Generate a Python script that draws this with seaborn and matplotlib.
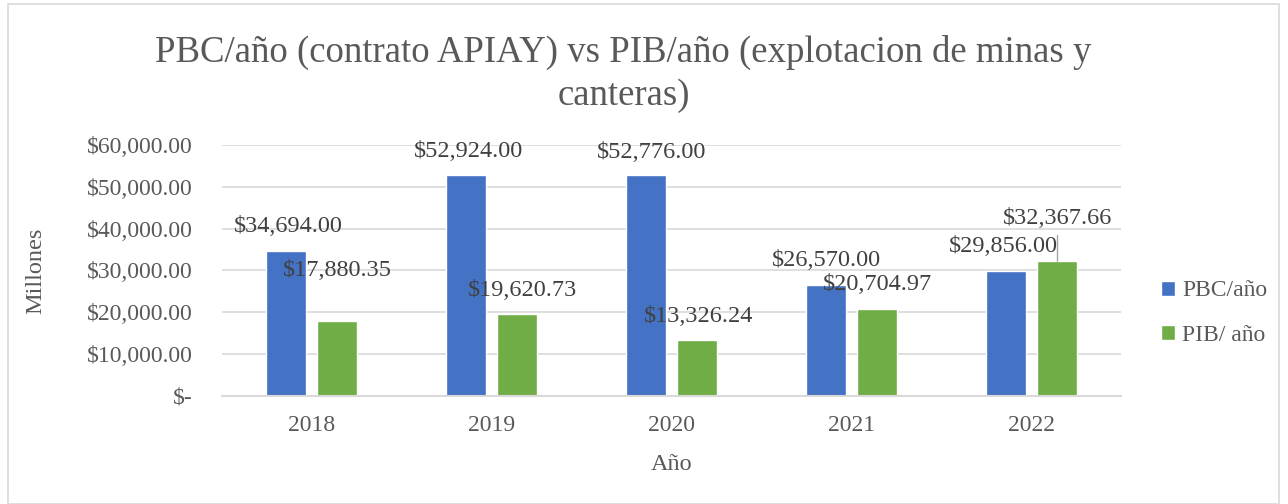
import pandas as pd
import matplotlib.pyplot as plt
import seaborn as sns
from matplotlib.patches import Rectangle
from matplotlib.ticker import FuncFormatter

# Data
years = ['2018', '2019', '2020', '2021', '2022']
pbc = [34694.00, 52924.00, 52776.00, 26570.00, 29856.00]
pib = [17880.35, 19620.73, 13326.24, 20704.97, 32367.66]
series_names = ['PBC/año', 'PIB/ año']

df = pd.DataFrame({
    'year': years * 2,
    'value': pbc + pib,
    'serie': [series_names[0]] * 5 + [series_names[1]] * 5,
})

sns.set_theme(style='white')
plt.rcParams['font.family'] = ['Liberation Serif', 'DejaVu Serif']
grey = '#595959'

fig = plt.figure(figsize=(12.88, 5.04), dpi=100)
ax = fig.add_axes([0.1724, 0.2143, 0.698, 0.498])

sns.barplot(data=df, x='year', y='value', hue='serie', ax=ax,
            palette=['#4472C4', '#70AD47'], width=0.567, gap=0.216,
            saturation=1, legend=True)

ax.set_xlim(-0.5, 4.5)
ax.set_ylim(0, 60000)
ax.set_yticks(range(0, 60001, 10000))
ax.yaxis.set_major_formatter(FuncFormatter(lambda v, p: '$-' if v == 0 else f'${v:,.2f}'))
ax.grid(axis='y', color='#d9d9d9', linewidth=1.2)
ax.set_axisbelow(True)
for s in ['top', 'right', 'left']:
    ax.spines[s].set_visible(False)
ax.spines['bottom'].set_color('#d9d9d9')
ax.spines['bottom'].set_linewidth(1.5)
ax.tick_params(axis='y', length=0, pad=21, labelsize=17, labelcolor=grey)
ax.tick_params(axis='x', length=0, pad=14, labelsize=17, labelcolor=grey)
ax.set_xlabel('Año', fontsize=17.5, color=grey, labelpad=13)
ax.set_ylabel('Millones', fontsize=17.5, color=grey, labelpad=29)

# data labels (manually placed offsets in pixels, as in the original)
offs = {
    0: [(2, 24), (2, 23), (6, 23), (1, 24), (-2, 25)],
    1: [(0, 51), (5, 23), (2, 24), (1, 25), (1, 42)],
}
for i, cont in enumerate(ax.containers):
    vals = pbc if i == 0 else pib
    for j, bar in enumerate(cont):
        dx, dy = offs[i][j]
        xc = bar.get_x() + bar.get_width() / 2
        ax.annotate(f'${vals[j]:,.2f}', (xc, bar.get_height()),
                    xytext=(dx, dy), textcoords='offset pixels',
                    ha='center', va='center', fontsize=17.5, color='#404040')

# leader line for the 2022 PIB label
b = ax.containers[1][4]
xc = b.get_x() + b.get_width() / 2
ax.plot([xc, xc], [b.get_height(), b.get_height() + 6200], color='#a6a6a6', lw=1)

leg = ax.legend(loc='center left', bbox_to_anchor=(1.021, 0.33), frameon=False,
                fontsize=17, handlelength=0.6, handleheight=0.6,
                handletextpad=0.3, labelspacing=1.0)
for t in leg.get_texts():
    t.set_color(grey)

fig.text(0.484, 0.853, 'PBC/año (contrato APIAY) vs PIB/año (explotacion de minas y\ncanteras)',
         ha='center', va='center', fontsize=26.5, color=grey, linespacing=1.32)

fig.patches.append(Rectangle((0.006, 0.0), 0.987, 0.992, transform=fig.transFigure,
                             fill=False, edgecolor='#d9d9d9', linewidth=1.2))

fig.savefig('out.png', dpi=100)
